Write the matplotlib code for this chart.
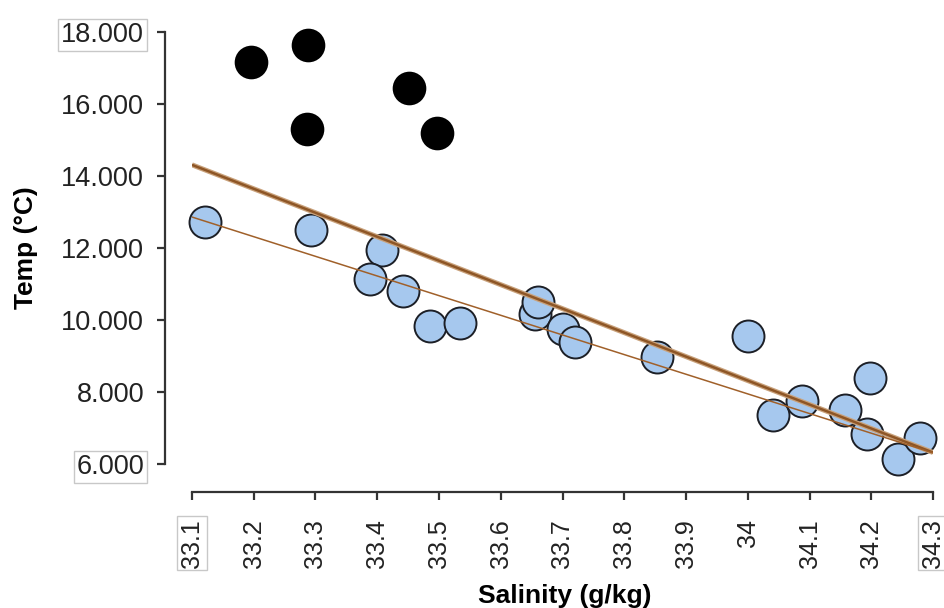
import matplotlib
matplotlib.use("Agg")
import matplotlib.pyplot as plt
import numpy as np

plt.rcParams['font.family'] = ['Liberation Sans', 'DejaVu Sans']

# warm samples (black) and cold samples (blue)
warm_sal = [33.196, 33.288, 33.287, 33.451, 33.497]
warm_temp = [17.17, 17.64, 15.31, 16.44, 15.19]

cold_sal = [33.121, 33.293, 33.408, 33.388, 33.442, 33.485, 33.534, 33.655, 33.660,
            33.701, 33.720, 33.853, 34.000, 34.041, 34.088, 34.157, 34.198, 34.193,
            34.243, 34.279]
cold_temp = [12.72, 12.50, 11.94, 11.14, 10.81, 9.83, 9.92, 10.17, 10.50,
             9.75, 9.39, 8.97, 9.56, 7.36, 7.75, 7.50, 8.39, 6.83,
             6.14, 6.72]

# fit lines (endpoints at x-axis limits)
fit_x = [33.1, 34.3]
fit_all_y = [14.31, 6.32]
fit_cold_y = [12.86, 6.31]

xticks = [33.1, 33.2, 33.3, 33.4, 33.5, 33.6, 33.7, 33.8, 33.9, 34.0, 34.1, 34.2, 34.3]
xticklabels = ["33.1", "33.2", "33.3", "33.4", "33.5", "33.6", "33.7", "33.8", "33.9",
               "34", "34.1", "34.2", "34.3"]
yticks = [6, 8, 10, 12, 14, 16, 18]

fig = plt.figure(figsize=(9.45, 6.08), dpi=100)
ax = fig.add_axes([192/945, 1-464/608, (933-192)/945, (464-32)/608])

ax.scatter(warm_sal, warm_temp, s=530, color="black", edgecolor="black",
           linewidth=1.2, zorder=3, clip_on=False)
ax.scatter(cold_sal, cold_temp, s=530, color="#a6c8ee", edgecolor="#1c1f26",
           linewidth=1.4, zorder=3, clip_on=False)

ax.plot(fit_x, fit_all_y, color="#c9a27c", linewidth=3.6, zorder=4, solid_capstyle="butt")
ax.plot(fit_x, fit_all_y, color="#8e5626", linewidth=1.8, zorder=4, solid_capstyle="butt")
ax.plot(fit_x, fit_cold_y, color="#a0602a", linewidth=1.1, zorder=4)

ax.set_xlim(33.1, 34.3)
ax.set_ylim(6, 18)
ax.set_xticks(xticks)
ax.set_xticklabels(xticklabels)
ax.set_yticks(yticks)
ax.set_yticklabels(["%.3f" % v for v in yticks])

for side in ["top", "right"]:
    ax.spines[side].set_visible(False)
ax.spines["left"].set_position(("outward", 19.5))
ax.spines["bottom"].set_position(("outward", 20.5))
for side in ["left", "bottom"]:
    ax.spines[side].set_color("#333333")
    ax.spines[side].set_linewidth(1.6)

ax.tick_params(axis="both", colors="#333333", width=1.6, length=6,
               labelcolor="#222222")
ax.tick_params(axis="y", pad=9, labelsize=19.5)
ax.tick_params(axis="x", pad=13, labelsize=18, labelrotation=90)

box = dict(facecolor="none", edgecolor="#c8c8c8", pad=2, linewidth=1)
for lab in [ax.get_xticklabels()[0], ax.get_xticklabels()[-1],
            ax.get_yticklabels()[0], ax.get_yticklabels()[-1]]:
    lab.set_bbox(box)

ax.set_xlabel("Salinity (g/kg)", fontsize=19, fontweight="bold")
ax.set_ylabel("Temp (°C)", fontsize=19, fontweight="bold")
ax.xaxis.set_label_coords(565/741 - 192/741, -(596-464)/432, transform=ax.transAxes) if False else None
ax.xaxis.set_label_coords((565-192)/741, -(596-464)/432)
ax.yaxis.set_label_coords(-(192-26)/741, (464-248)/432)
ax.xaxis.label.set_va("center")
ax.yaxis.label.set_va("center")

fig.savefig("out.png", dpi=100)
